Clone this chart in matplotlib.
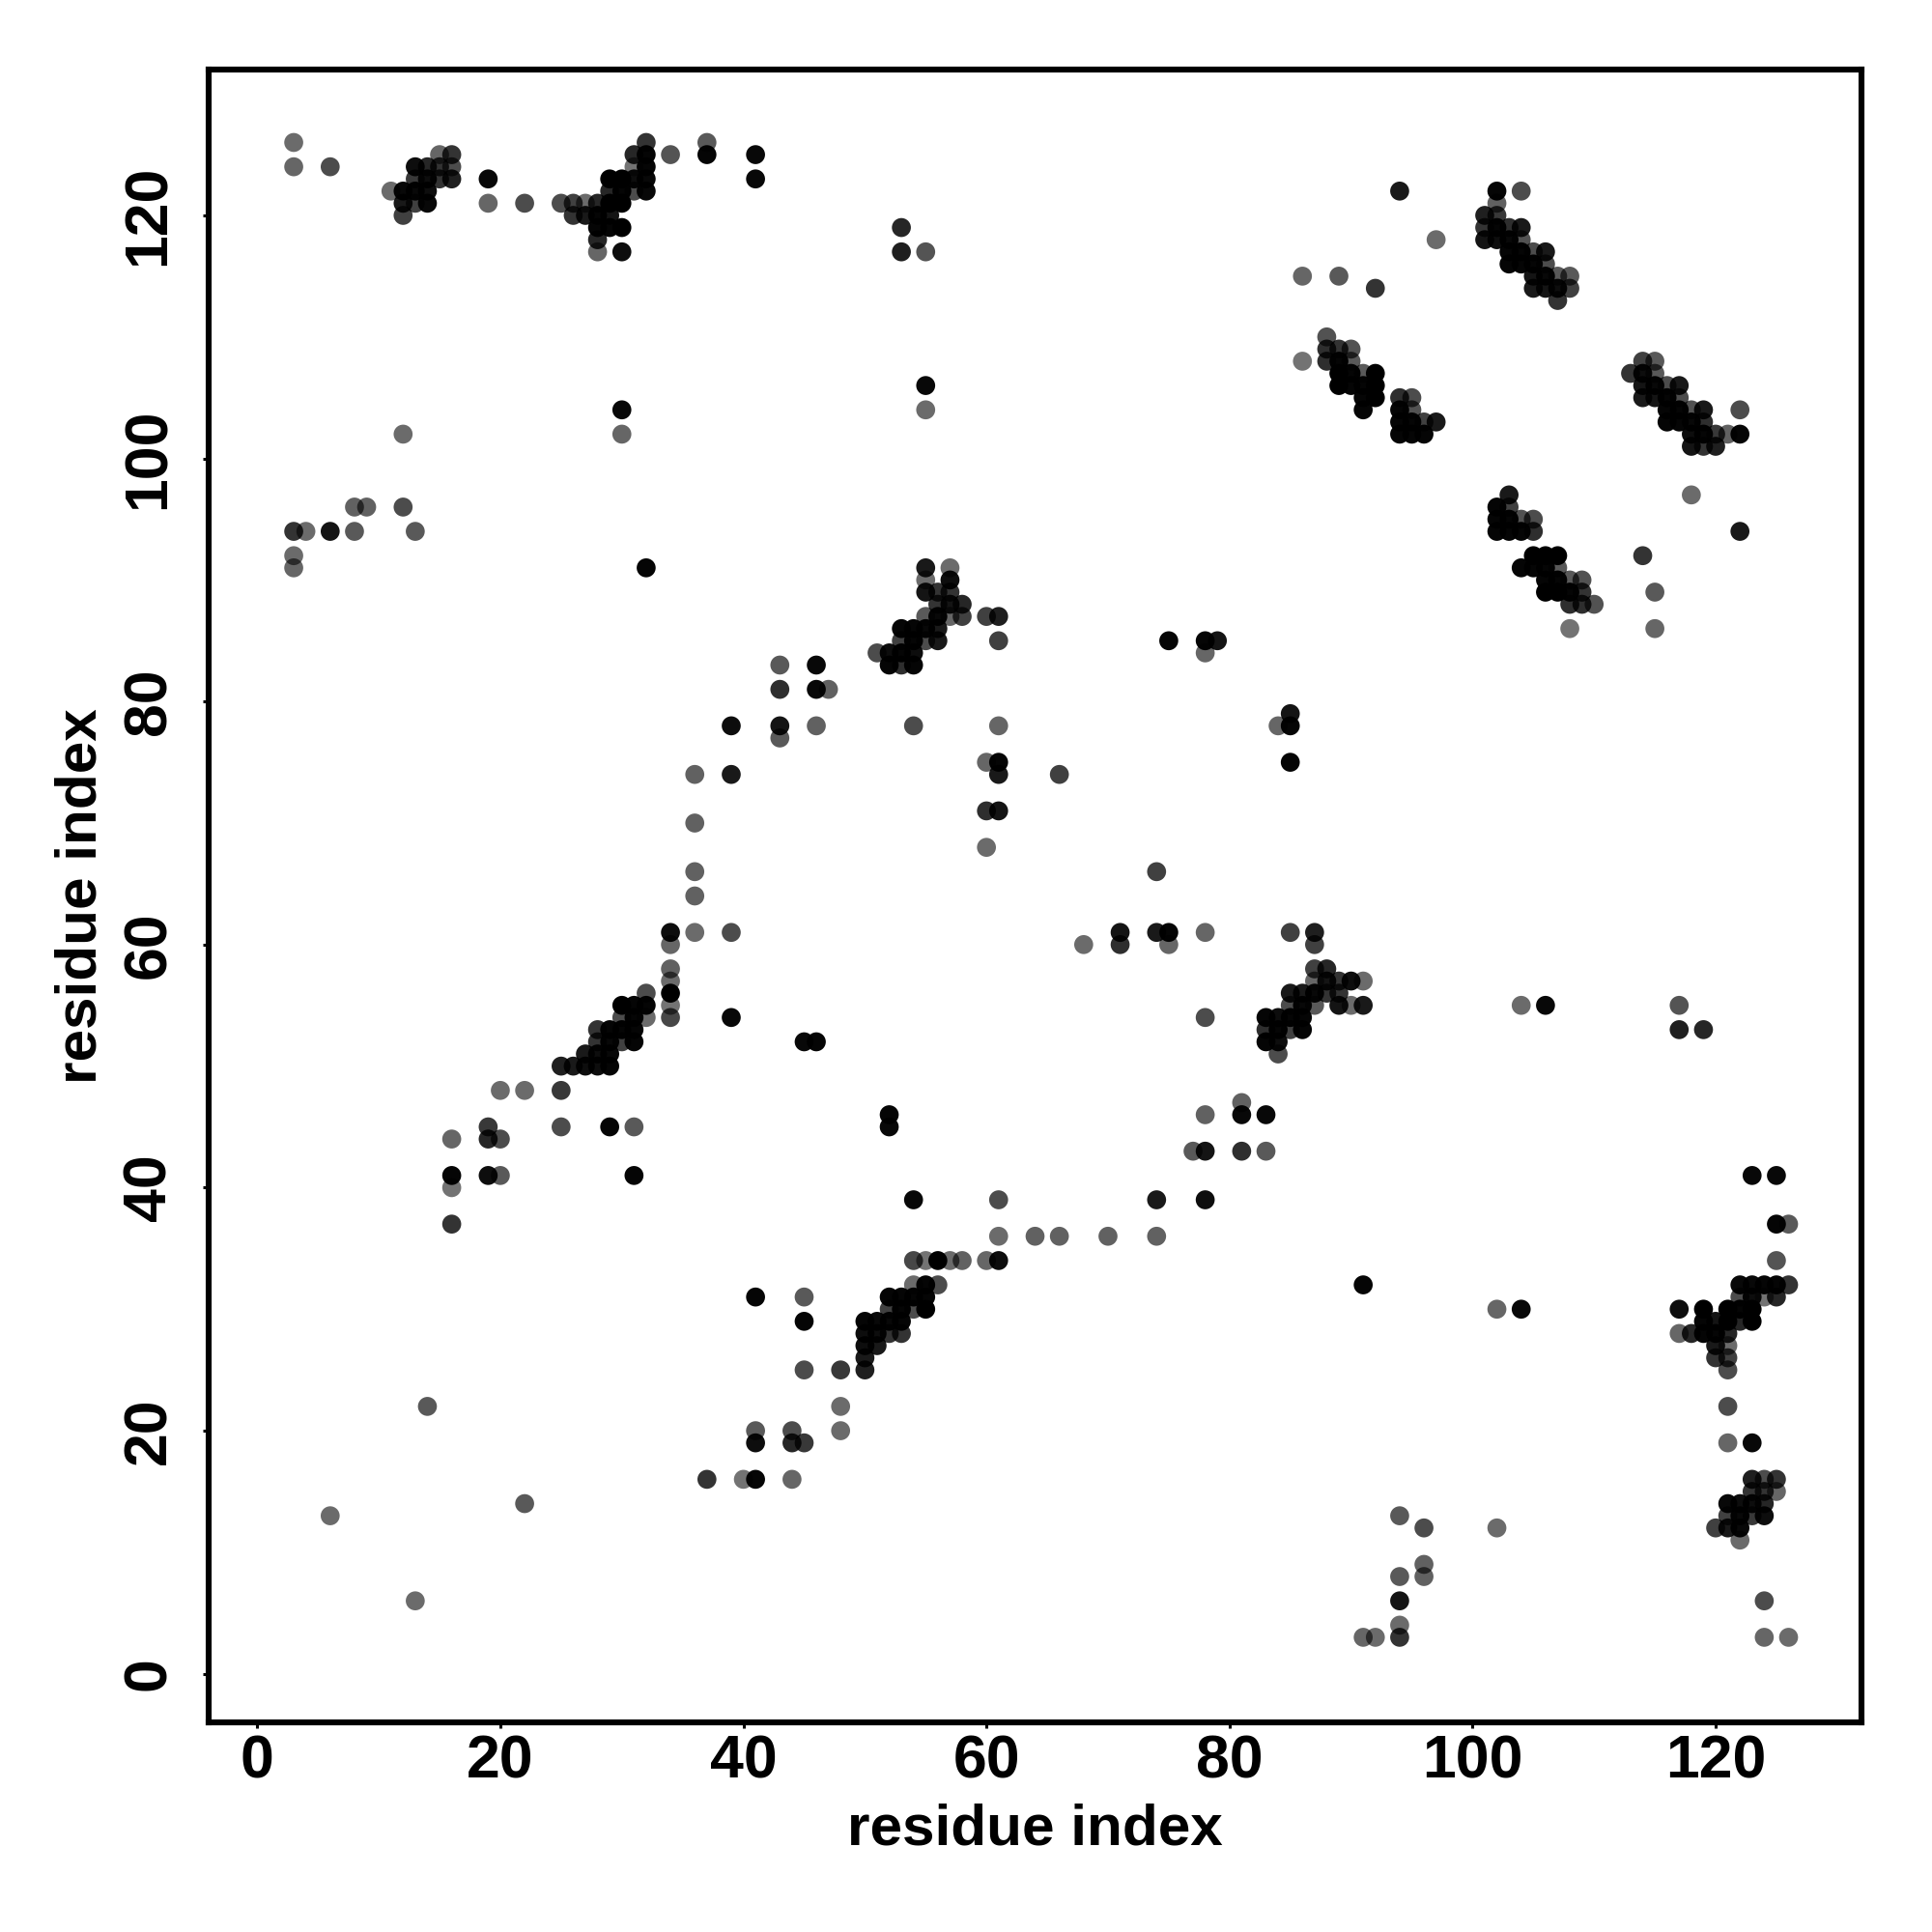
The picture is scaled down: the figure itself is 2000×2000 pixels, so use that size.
import numpy as np
import matplotlib
matplotlib.use("Agg")
import matplotlib.pyplot as plt

plt.rcParams['font.family'] = ['Liberation Sans', 'DejaVu Sans']

# contacts: (i, j, grey seen in the picture), each also drawn as (j, i)
far_contacts = [
    (3, 126, .42), (3, 124, .40), (6, 124, .30), (19, 123, .10), (19, 121, .40), (22, 121, .30),
    (34, 125, .33), (37, 126, .40), (37, 125, .0), (41, 125, .03), (41, 123, .03),
    (53, 119, .15), (53, 117, .12), (55, 117, .33), (94, 122, .10), (97, 118, .40),
    (86, 115, .40), (89, 115, .35), (92, 114, .20), (86, 108, .45),
    (102, 122, .02), (104, 122, .30), (108, 86, .45), (115, 86, .40), (115, 89, .35),
    (114, 92, .20), (118, 97, .42), (122, 94, .10),
    (30, 104, .03), (30, 102, .40), (55, 106, .03), (55, 104, .42), (32, 91, .02), (12, 102, .42),
    (3, 94, .20), (4, 94, .42), (6, 94, .08), (8, 94, .35), (13, 94, .35), (8, 96, .38),
    (9, 96, .38), (12, 96, .30), (3, 92, .42), (3, 91, .40), (75, 85, .02), (78, 85, .02),
    (79, 85, .08), (78, 84, .40), (6, 13, .42), (14, 22, .35),
]

left_groups = [
    (20, 48, .40), (22, 48, .42), (19, 45, .35), (19, 44, .40), (20, 44, .35), (16, 44, .42),
    (16, 41, .08), (19, 41, .08), (20, 41, .40), (16, 40, .45), (16, 37, .20), (25, 45, .30),
    (29, 45, .02), (31, 45, .35), (31, 41, .02), (36, 74, .35), (36, 70, .35), (36, 66, .30),
    (36, 64, .35), (36, 61, .42), (39, 78, .02), (39, 74, .03), (39, 61, .30), (39, 54, .05),
    (43, 83, .20), (43, 81, .10), (43, 78, .08), (43, 77, .30), (46, 83, .03), (46, 81, .02),
    (47, 81, .30), (46, 78, .42), (54, 78, .30), (60, 75, .40), (61, 75, .02), (61, 74, .10),
    (66, 74, .25), (60, 71, .18), (61, 71, .08), (60, 68, .42), (61, 78, .40),
    (45, 52, .03), (46, 52, .02), (25, 48, .20),
    (61, 34, .08), (60, 34, .38), (61, 36, .42), (64, 36, .38), (66, 36, .38), (70, 36, .38),
    (74, 36, .38), (74, 39, .10), (61, 39, .30), (54, 39, .03), (78, 39, .05), (77, 43, .35),
    (78, 43, .08), (78, 46, .38), (81, 47, .38), (81, 46, .03), (83, 46, .03), (81, 43, .18),
    (83, 43, .35),
    (48, 22, .42), (48, 20, .42), (48, 25, .22), (44, 20, .30), (44, 19, .15), (45, 19, .22),
    (41, 20, .35), (41, 19, .05), (41, 16, .02), (41, 31, .02), (37, 16, .20), (44, 16, .40),
    (40, 16, .45), (45, 31, .35), (45, 29, .02), (45, 25, .30),
    (123, 19, .03), (121, 19, .40), (123, 41, .03), (125, 41, .03), (125, 37, .02), (126, 37, .35),
    (102, 12, .42),
]

hairpin_a = [
    (15, 125, .40), (16, 125, .20), (13, 124, .05), (14, 124, .15), (15, 124, .20), (16, 124, .30),
    (13, 123, .22), (14, 123, .05), (15, 123, .20), (16, 123, .12), (11, 122, .42), (12, 122, .03),
    (13, 122, .03), (14, 122, .05), (12, 121, .10), (13, 121, .25), (14, 121, .03), (12, 120, .25),
]

hairpin_b = [
    (32, 126, .20), (31, 125, .15), (32, 125, .02), (31, 124, .45), (32, 124, .02),
    (29, 123, .0), (30, 123, .0), (31, 123, .05), (32, 123, .03), (29, 122, .15), (30, 122, .02),
    (31, 122, .30), (32, 122, .03), (25, 121, .30), (26, 121, .25), (27, 121, .42), (28, 121, .15),
    (29, 121, .0), (30, 121, .0), (26, 120, .20), (27, 120, .10), (28, 120, .02), (29, 120, .08),
    (28, 119, .02), (29, 119, .02), (30, 119, .0), (28, 118, .15), (28, 117, .40), (30, 117, .05),
]

strand_c = [
    (102, 121, .38), (101, 120, .12), (102, 120, .22), (101, 119, .20), (102, 119, .02),
    (103, 119, .18), (104, 119, .10), (101, 118, .08), (102, 118, .05), (103, 118, .03),
    (104, 118, .32), (103, 117, .02), (104, 117, .02), (105, 117, .30), (106, 117, .10),
    (103, 116, .02), (104, 116, .02), (105, 116, .02), (106, 116, .30), (105, 115, .08),
    (106, 115, .03), (107, 115, .35), (108, 115, .35), (105, 114, .10), (106, 114, .08),
    (107, 114, .05), (108, 114, .25), (107, 113, .20),
]

strand_d = [
    (88, 110, .35), (88, 109, .18), (89, 109, .25), (90, 109, .35), (88, 108, .20), (89, 108, .05),
    (90, 108, .38), (89, 107, .03), (90, 107, .03), (91, 107, .38), (92, 107, .0), (89, 106, .02),
    (90, 106, .02), (91, 106, .02), (92, 106, .03), (91, 105, .05), (92, 105, .02), (91, 104, .02),
    (94, 105, .20), (95, 105, .30), (94, 104, .03), (95, 104, .33), (94, 103, .06), (95, 103, .02),
    (96, 103, .25), (97, 103, .10), (94, 102, .02), (95, 102, .02), (96, 102, .02),
]

strand_e = [
    (103, 97, .10), (102, 96, .02), (103, 96, .25), (102, 95, .02), (103, 95, .02), (104, 95, .32),
    (105, 95, .30), (102, 94, .02), (103, 94, .02), (104, 94, .02), (105, 94, .18),
    (105, 92, .0), (106, 92, .0), (107, 92, .0), (104, 91, .02), (105, 91, .02), (106, 91, .02),
    (107, 91, .35), (106, 90, .02), (107, 90, .02), (108, 90, .35), (109, 90, .32), (106, 89, .0),
    (107, 89, .0), (108, 89, .02), (109, 89, .20), (108, 88, .18), (109, 88, .18), (110, 88, .32),
]

strand_f = [
    (55, 91, .10), (57, 91, .42), (55, 90, .42), (57, 90, .05), (55, 89, .08), (56, 89, .20),
    (57, 89, .20), (56, 88, .20), (57, 88, .08), (58, 88, .15), (55, 87, .35), (56, 87, .03),
    (57, 87, .40), (58, 87, .25), (60, 87, .25), (61, 87, .12), (61, 85, .25), (53, 86, .02),
    (54, 86, .02), (55, 86, .03), (56, 86, .10), (53, 85, .25), (54, 85, .02), (55, 85, .30),
    (56, 85, .10), (51, 84, .30), (52, 84, .05), (53, 84, .02), (54, 84, .05), (52, 83, .02),
    (53, 83, .18), (54, 83, .02),
]

strand_g = [
    (34, 61, .05), (34, 60, .40), (34, 58, .38), (34, 57, .42), (34, 56, .0), (34, 55, .45),
    (34, 54, .28), (32, 56, .30), (30, 55, .0), (31, 55, .02), (32, 55, .02), (30, 54, .30),
    (31, 54, .02), (32, 54, .42), (28, 53, .20), (29, 53, .02), (30, 53, .02), (31, 53, .02),
    (28, 52, .20), (29, 52, .03), (30, 52, .25), (31, 52, .02), (27, 51, .10), (28, 51, .05),
    (29, 51, .03), (25, 50, .12), (26, 50, .10), (27, 50, .05), (28, 50, .05), (29, 50, .02),
]

tick_values = [0, 20, 40, 60, 80, 100, 120]

all_contacts = (far_contacts + left_groups + hairpin_a + hairpin_b + strand_c + strand_d
                + strand_e + strand_f + strand_g)
# one dot per contact on each side of the diagonal, whichever way round it was read
unique = {}
for c in all_contacts:
    unique[(min(c[0], c[1]), max(c[0], c[1]))] = c
all_contacts = list(unique.values())

i_idx = np.array([c[0] for c in all_contacts])
j_idx = np.array([c[1] for c in all_contacts])
grey = np.array([c[2] for c in all_contacts])

xs = np.concatenate([i_idx, j_idx])
ys = np.concatenate([j_idx, i_idx])
colors = np.zeros((len(xs), 4))
colors[:, 3] = 1 - np.concatenate([grey, grey])

fig = plt.figure(figsize=(10, 10), dpi=200)
ax = fig.add_axes([216 / 2000, 1 - 1783 / 2000, 1711 / 2000, 1711 / 2000])
ax.scatter(xs, ys, s=50, c=colors, linewidths=0)

ax.set_xlim(-4, 132)
ax.set_ylim(-4, 132)
ax.set_xticks(tick_values)
ax.set_yticks(tick_values)
ax.tick_params(length=2.3, width=1.1, labelsize=22.5)
ax.tick_params(axis='x', pad=2)
ax.tick_params(axis='y', pad=9.2)
for lab in ax.get_xticklabels():
    lab.set_fontweight('bold')
for lab in ax.get_yticklabels():
    lab.set_fontweight('bold')
    lab.set_rotation(90)
    lab.set_va('center')
for s in ax.spines.values():
    s.set_linewidth(2.2)

ax.set_xlabel('residue index', fontsize=21.7, fontweight='bold', labelpad=4.5)
ax.set_ylabel('residue index', fontsize=21.7, fontweight='bold', labelpad=5)

fig.savefig('out.png', dpi=200)
